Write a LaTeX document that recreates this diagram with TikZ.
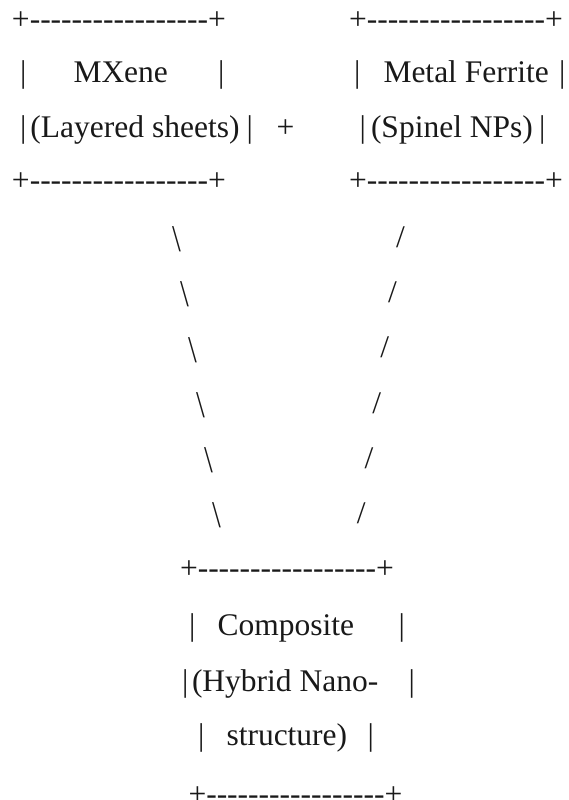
\documentclass[tikz,border=0pt]{standalone}
\usepackage{fontspec}
\setmainfont{Liberation Serif}[Ligatures=TeXOff]
\begin{document}
\begin{tikzpicture}[x=1pt,y=1pt,
  txt/.style={anchor=base west,inner sep=0pt,outer sep=0pt,
    font=\fontsize{31.5pt}{38pt}\selectfont,text=black!90},
  stroke/.style={txt,anchor=north west}]
\useasboundingbox (0,0) rectangle (568,-800);
\def\edge{+-----------------+}
% MXene box
\node[txt] (mxT)  at (12,-30)    {\edge};
\node[txt] (mxL1) at (20,-82.5)  {|};
\node[txt] (mx)   at (73.5,-82.5){MXene};
\node[txt] (mxR1) at (218,-82.5) {|};
\node[txt] (mxL2) at (20,-137.5) {|};
\node[txt] (mxs)  at (30.5,-137.5){(Layered sheets)};
\node[txt] (mxR2) at (246.5,-137.5){|};
\node[txt] (mxB)  at (12,-190.5) {\edge};
% plus sign between the two inputs
\node[txt] (plus) at (276.5,-137.5){+};
% Metal ferrite box
\node[txt] (mfT)  at (349,-30)   {\edge};
\node[txt] (mfL1) at (354,-82.5) {|};
\node[txt] (mf)   at (383.5,-82.5){Metal Ferrite};
\node[txt] (mfR1) at (559,-82.5) {|};
\node[txt] (mfL2) at (359.5,-137.5){|};
\node[txt] (mfs)  at (371,-137.5){(Spinel NPs)};
\node[txt] (mfR2) at (539,-137.5){|};
\node[txt] (mfB)  at (349,-190.5){\edge};
% converging strokes
\foreach \k in {0,...,5}{
  \node[stroke] (bs\k) at ({172+8*\k},{-226.7-55.2*\k})
    {\scalebox{1}[1.2]{\textbackslash}};
  \node[stroke] (fs\k) at ({396-7.85*\k},{-226.7-55.2*\k}) {/};
}
% Composite box
\node[txt] (cpT)  at (180,-578.5)  {\edge};
\node[txt] (cpL1) at (189,-635)    {|};
\node[txt] (cp)   at (217.5,-635)  {Composite};
\node[txt] (cpR1) at (398.5,-635)  {|};
\node[txt] (cpL2) at (182,-691)    {|};
\node[txt] (cph)  at (192,-691)    {(Hybrid Nano-};
\node[txt] (cpR2) at (408.5,-691)  {|};
\node[txt] (cpL3) at (198,-745.5)  {|};
\node[txt] (cps)  at (226.5,-745.5){structure)};
\node[txt] (cpR3) at (367.5,-745.5){|};
\node[txt] (cpB)  at (188.5,-804)  {\edge};
\end{tikzpicture}
\end{document}
